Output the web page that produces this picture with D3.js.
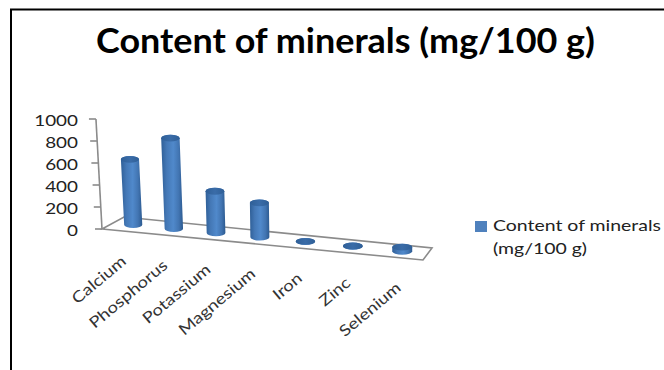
<!DOCTYPE html>
<html>
<head>
<meta charset="utf-8">
<script src="https://cdn.jsdelivr.net/npm/d3@7"></script>
<style>
html,body{margin:0;padding:0;background:#fff;}
svg{display:block;}
text{font-family:Lato,"Open Sans",sans-serif;}
</style>
</head>
<body>
<div id="chart"></div>
<script>
const categories = ["Calcium","Phosphorus","Potassium","Magnesium","Iron","Zinc","Selenium"];
const minerals = [585,785,350,280,3,3,30];
const yTicks = [0,200,400,600,800,1000];
const seriesName = ["Content of minerals","(mg/100 g)"];
const titleText = "Content of minerals (mg/100 g)";

const W = 664, H = 370;
const svg = d3.select("#chart").append("svg").attr("width",W).attr("height",H);

// All text in this chart is set slightly wide: stretch glyphs by a common factor
function widen(sel,factor){
  sel.each(function(){
    const len = this.getComputedTextLength();
    d3.select(this).attr("textLength",len*factor).attr("lengthAdjust","spacingAndGlyphs");
  });
}

// Page frame: only the top and left rules are visible
svg.append("path").attr("d",`M664,9.5H11V370`).attr("fill","none").attr("stroke","#000").attr("stroke-width",2);

svg.append("text").attr("x",345.5).attr("y",53).attr("text-anchor","middle")
  .attr("font-size",34).attr("font-weight",700).attr("fill","#000").text(titleText)
  .call(widen,1.057);

// Scales: categories run along the receding floor, values rise from it
const band = d3.scaleBand().domain(categories).range([0,1]);
const heightScale = d3.scaleLinear().domain([0,1000]).range([0,110]);
const frontAxis = d3.scaleLinear().domain([0,1000]).range([229,119]);

// Perspective foreshortening of the floor
const persp = t => t/(t+1.146*(1-t));
const corners = {fl:[102,229],fr:[423,260],bl:[124,217],br:[432,248]};
function floorPoint(t,d){
  const p = persp(t);
  const fx = corners.fl[0]+(corners.fr[0]-corners.fl[0])*p, fy = corners.fl[1]+(corners.fr[1]-corners.fl[1])*p;
  const bx = corners.bl[0]+(corners.br[0]-corners.bl[0])*p, by = corners.bl[1]+(corners.br[1]-corners.bl[1])*p;
  return [fx+(bx-fx)*d, fy+(by-fy)*d, p];
}

// Cylinder shading
const defs = svg.append("defs");
function hGrad(id,stops){
  const g = defs.append("linearGradient").attr("id",id);
  stops.forEach(([o,c])=>g.append("stop").attr("offset",o).attr("stop-color",c));
}
hGrad("body",[[0,"#2f5f97"],[.25,"#4478b6"],[.55,"#5089cb"],[.8,"#4275b2"],[1,"#2c5a90"]]);
hGrad("cap",[[0,"#2f5f97"],[.5,"#3a6ca8"],[1,"#2f5f97"]]);

const axisColor = "#8b8b8b";
const structure = svg.append("g").attr("fill","none").attr("stroke",axisColor).attr("stroke-width",1.6);
const {fl,fr,bl,br} = corners;
// Floor outline
structure.append("path").attr("d",`M${fl}L${fr}L${br}L${bl}Z`);
// Slanted value axis and its ticks
const axisAt = v => [fl[0]-heightScale(v)*0.055, frontAxis(v)];
structure.append("path").attr("d",`M${axisAt(0)}L${axisAt(1000)}`);
structure.selectAll(".vtick").data(yTicks).join("path").attr("class","vtick")
  .attr("d",v=>{const a=axisAt(v);return `M${a}h-7`;});
// Category ticks hanging from the front edge
const boundaries = d3.range(0,8).map(i=>i/7);
structure.selectAll(".ctick").data(boundaries).join("path").attr("class","ctick")
  .attr("d",(t,i)=>{const a=floorPoint(t,0);return `M${a}v${i===7?8:6}`;});

// Value labels come from a D3 axis with its rules hidden
const yAxis = d3.axisLeft(frontAxis).tickValues(yTicks).tickSize(0).tickPadding(0).tickFormat(d3.format("d"));
const yG = svg.append("g").attr("transform","translate(78,1)").call(yAxis);
yG.select(".domain").remove();
yG.selectAll("text").attr("font-size",16).attr("fill","#222").style("font-family","Lato,sans-serif").call(widen,1.18);

// Cylinders
const rx = p => 9*(1+0.12*p), ry = 3.4;
const bars = svg.append("g");
categories.forEach((c,i)=>{
  const t = band(c)+band.bandwidth()/2;
  const [bx,by,p] = floorPoint(t,0.52);
  const h = heightScale(minerals[i])*(1+0.25*p);
  const tx = bx - h*0.055*Math.max(0,1-p*1.6), ty = by-h;
  const r = rx(p);
  bars.append("path")
    .attr("d",`M${bx-r},${by}A${r},${ry} 0 0 0 ${bx+r},${by}L${tx+r},${ty}A${r},${ry} 0 0 0 ${tx-r},${ty}Z`)
    .attr("fill","url(#body)");
  bars.append("ellipse").attr("cx",tx).attr("cy",ty).attr("rx",r).attr("ry",ry).attr("fill","url(#cap)");
});

// Rotated category labels
svg.append("g").selectAll("text").data(categories).join("text")
  .attr("text-anchor","end").attr("font-size",15.5).attr("fill","#333")
  .attr("transform",c=>{
    const a = floorPoint(band(c)+band.bandwidth()/2,0);
    return `translate(${a[0]+5},${a[1]+32}) rotate(-40)`;
  }).text(d=>d).call(widen,1.2);

// Legend
svg.append("rect").attr("x",475).attr("y",221).attr("width",12).attr("height",11).attr("fill","#4f81bd");
svg.append("g").selectAll("text").data(seriesName).join("text")
  .attr("x",493).attr("y",(d,i)=>231+i*23).attr("font-size",16).attr("fill","#222").text(d=>d)
  .call(widen,1.215);
</script>
</body>
</html>
